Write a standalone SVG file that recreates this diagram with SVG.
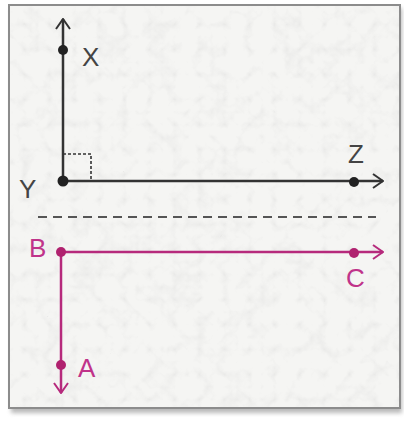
<svg xmlns="http://www.w3.org/2000/svg" width="404" height="432" viewBox="0 0 404 432">
<defs>
<filter id="marble" x="0" y="0" width="100%" height="100%">
<feTurbulence type="turbulence" baseFrequency="0.04" numOctaves="3" seed="7" result="n"/>
<feColorMatrix in="n" type="matrix" values="0 0 0 0 0.6  0 0 0 0 0.6  0 0 0 0 0.6  -1.2 -1.2 -1.2 0 1.1" result="m"/>
<feComposite in="m" in2="SourceGraphic" operator="in"/>
</filter>
<filter id="shadow" x="-5%" y="-5%" width="110%" height="110%">
<feGaussianBlur stdDeviation="2"/>
</filter>
<marker id="arrowDark" viewBox="0 0 12 16" refX="11" refY="8" markerWidth="12" markerHeight="16" markerUnits="userSpaceOnUse" orient="auto">
<path d="M1,1 L11,8 L1,15" fill="none" stroke="#333" stroke-width="2"/>
</marker>
<marker id="arrowMag" viewBox="0 0 12 16" refX="11" refY="8" markerWidth="12" markerHeight="16" markerUnits="userSpaceOnUse" orient="auto">
<path d="M1,1 L11,8 L1,15" fill="none" stroke="#b62a7c" stroke-width="2"/>
</marker>
<style>
.dark{stroke:#333;stroke-width:2.5;fill:none}
.mag{stroke:#b62a7c;stroke-width:2.5;fill:none}
.dotD{fill:#222}
.dotM{fill:#b0226f}
.lblD{font-family:"Liberation Sans",Arial,sans-serif;font-size:26px;fill:#444}
.lblM{font-family:"Liberation Sans",Arial,sans-serif;font-size:26px;fill:#c0338a}
</style>
</defs>
<rect width="404" height="432" fill="#ffffff"/>
<rect x="11" y="8" width="391" height="405" fill="#8a8a8a" opacity="0.6" filter="url(#shadow)"/>
<rect x="9" y="5" width="391" height="403" fill="#f5f5f3" stroke="#8c8c8c" stroke-width="2"/>
<rect x="10" y="6" width="389" height="401" fill="#ffffff" filter="url(#marble)" opacity="0.25"/>
<g id="connectors">
<line class="dark" x1="63" y1="181" x2="63" y2="19" marker-end="url(#arrowDark)"/>
<line class="dark" x1="63" y1="181" x2="383" y2="181" marker-end="url(#arrowDark)"/>
<path d="M63,154 H91 V181" fill="none" stroke="#333" stroke-width="1.6" stroke-dasharray="3,2"/>
<line x1="38" y1="217" x2="376" y2="217" stroke="#555" stroke-width="2" stroke-dasharray="9,6"/>
<line class="mag" x1="61" y1="252" x2="383" y2="252" marker-end="url(#arrowMag)"/>
<line class="mag" x1="61" y1="252" x2="61" y2="393" marker-end="url(#arrowMag)"/>
</g>
<g id="node-X"><circle class="dotD" cx="63" cy="50" r="5"/><text class="lblD" x="82" y="66">X</text></g>
<g id="node-Y"><circle class="dotD" cx="63" cy="181" r="5.5"/><text class="lblD" x="19" y="198">Y</text></g>
<g id="node-Z"><circle class="dotD" cx="354" cy="182" r="5"/><text class="lblD" x="348" y="163">Z</text></g>
<g id="node-B"><circle class="dotM" cx="61" cy="252" r="5"/><text class="lblM" x="29" y="257">B</text></g>
<g id="node-C"><circle class="dotM" cx="354" cy="253" r="5"/><text class="lblM" x="346" y="287">C</text></g>
<g id="node-A"><circle class="dotM" cx="61" cy="365" r="5"/><text class="lblM" x="78" y="377">A</text></g>
</svg>
